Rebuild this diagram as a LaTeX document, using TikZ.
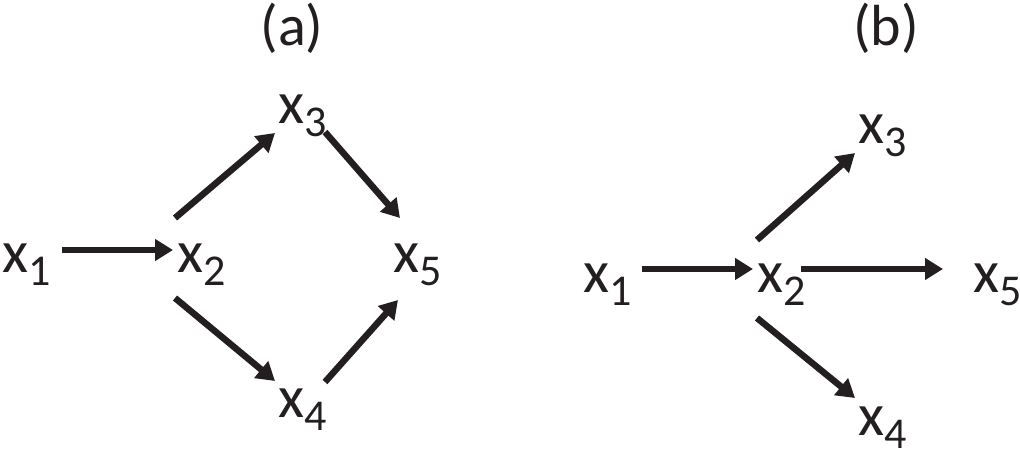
\documentclass[tikz,border=0pt]{standalone}
\usepackage{fontspec}
\setmainfont{Carlito}
\usetikzlibrary{arrows.meta,calc}
\definecolor{ink}{HTML}{231F20}
\newcommand\xv[1]{x\raisebox{-13pt}[0pt][13pt]{\fontsize{44}{44}\selectfont #1}}
\begin{document}
\begin{tikzpicture}[x=1pt,y=-1pt,
  var/.style={inner sep=0pt, anchor=base west, font=\fontsize{60}{60}\selectfont, text=ink},
  lab/.style={inner sep=0pt, anchor=base, font=\fontsize{58}{58}\selectfont, text=ink},
  arr/.style={draw=ink, line width=6.5pt, -{Triangle[length=18pt,width=21pt]}}]
\useasboundingbox (0,0) rectangle (1020,455);
% (a)
\node[lab] (la) at (292,45) {(a)};
\node[var] (a1) at (2,272) {\xv{1}};
\node[var] (a2) at (177,272) {\xv{2}};
\node[var] (a3) at (278,123) {\xv{3}};
\node[var] (a4) at (278,417) {\xv{4}};
\node[var] (a5) at (393,272) {\xv{5}};
\draw[arr] ($(a1.base west)+(60,-22)$) -- ($(a2.base west)+(-4,-22)$);
\draw[arr] ($(a2.base west)+(-2,-54)$) -- ($(a3.base west)+(-3,10)$);
\draw[arr] ($(a3.base west)+(47,9)$) -- ($(a5.base west)+(7,-54)$);
\draw[arr] ($(a2.base west)+(-2,26)$) -- ($(a4.base west)+(-3,-36)$);
\draw[arr] ($(a4.base west)+(47,-35)$) -- ($(a5.base west)+(5,28)$);
% (b)
\node[lab] (lb) at (886,45) {(b)};
\node[var] (b1) at (583,292) {\xv{1}};
\node[var] (b2) at (757,292) {\xv{2}};
\node[var] (b3) at (858,143) {\xv{3}};
\node[var] (b4) at (858,435) {\xv{4}};
\node[var] (b5) at (973,292) {\xv{5}};
\draw[arr] ($(b1.base west)+(59,-23)$) -- ($(b2.base west)+(-4,-23)$);
\draw[arr] ($(b2.base west)+(44,-23)$) -- ($(b5.base west)+(-30,-23)$);
\draw[arr] ($(b2.base west)+(0,-52)$) -- ($(b3.base west)+(-3,10)$);
\draw[arr] ($(b2.base west)+(0,26)$) -- ($(b4.base west)+(-3,-37)$);
\end{tikzpicture}
\end{document}
